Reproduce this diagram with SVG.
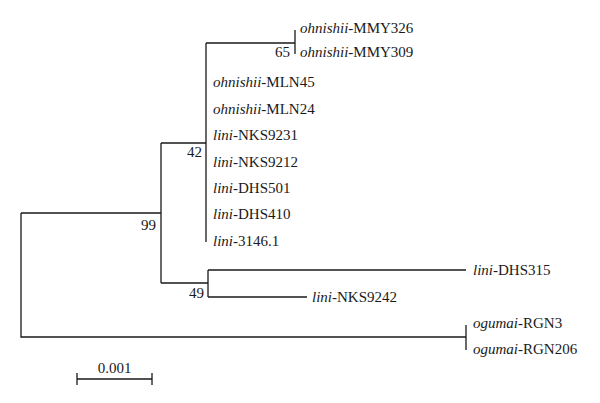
<svg xmlns="http://www.w3.org/2000/svg" width="600" height="403" viewBox="0 0 600 403">
<style>
.br{fill:none;stroke:#1a1a1a;stroke-width:1.3}
text{font-family:"Liberation Serif",serif;font-size:15px;fill:#1a1a1a}
.i{font-style:italic}
</style>
<rect width="600" height="403" fill="#fff"/>
<g id="connectors">
<path class="br" d="M21,213V337H466M21,213H161"/>
<path class="br" d="M161,143V283M161,143H206M161,283H208"/>
<path class="br" d="M206,43V242M206,43H295"/>
<path class="br" d="M295,30V54"/>
<path class="br" d="M208,270V297M208,270H466M208,297H307"/>
<path class="br" d="M466,325V350"/>
</g>
<g id="labels">
<g id="n-MMY326"><text x="300" y="33"><tspan class="i">ohnishii</tspan>-MMY326</text></g>
<g id="n-MMY309"><text x="300" y="57"><tspan class="i">ohnishii</tspan>-MMY309</text></g>
<g id="n-MLN45"><text x="213" y="87"><tspan class="i">ohnishii</tspan>-MLN45</text></g>
<g id="n-MLN24"><text x="213" y="114"><tspan class="i">ohnishii</tspan>-MLN24</text></g>
<g id="n-NKS9231"><text x="213" y="140"><tspan class="i">lini</tspan>-NKS9231</text></g>
<g id="n-NKS9212"><text x="213" y="167"><tspan class="i">lini</tspan>-NKS9212</text></g>
<g id="n-DHS501"><text x="213" y="193"><tspan class="i">lini</tspan>-DHS501</text></g>
<g id="n-DHS410"><text x="213" y="219"><tspan class="i">lini</tspan>-DHS410</text></g>
<g id="n-3146"><text x="213" y="246"><tspan class="i">lini</tspan>-3146.1</text></g>
<g id="n-DHS315"><text x="473" y="275"><tspan class="i">lini</tspan>-DHS315</text></g>
<g id="n-NKS9242"><text x="312" y="302"><tspan class="i">lini</tspan>-NKS9242</text></g>
<g id="n-RGN3"><text x="473" y="328"><tspan class="i">ogumai</tspan>-RGN3</text></g>
<g id="n-RGN206"><text x="473" y="354"><tspan class="i">ogumai</tspan>-RGN206</text></g>
</g>
<g id="bootstrap">
<text x="290" y="57" text-anchor="end">65</text>
<text x="202" y="157" text-anchor="end">42</text>
<text x="156" y="230" text-anchor="end">99</text>
<text x="204" y="298" text-anchor="end">49</text>
</g>
<g id="scale">
<path class="br" d="M77,379H152M77,373V385M152,373V385"/>
<text x="114.5" y="373" text-anchor="middle">0.001</text>
</g>
</svg>
